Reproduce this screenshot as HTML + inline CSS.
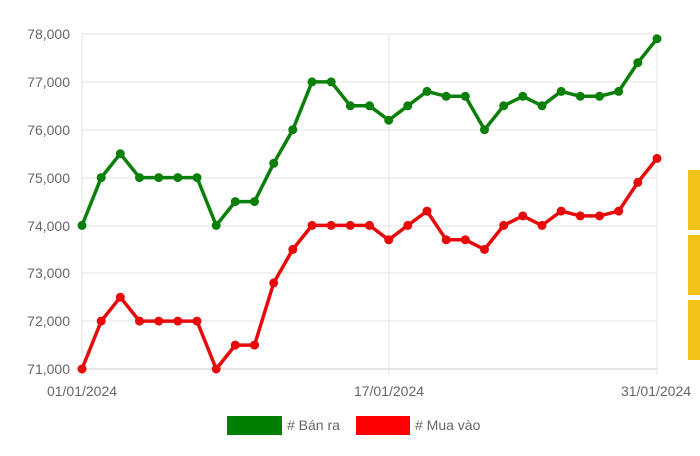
<!DOCTYPE html>
<html><head><meta charset="utf-8"><style>
body{margin:0;background:#fff;width:700px;height:451px;overflow:hidden;font-family:"Liberation Sans",sans-serif;}
</style></head><body>
<svg width="700" height="451" xmlns="http://www.w3.org/2000/svg" font-family="Liberation Sans, sans-serif">
<defs>
<marker id="mg" viewBox="-5 -5 10 10" refX="0" refY="0" markerWidth="10" markerHeight="10" markerUnits="userSpaceOnUse"><circle r="4.5" fill="#0a800a"/></marker>
<marker id="mr" viewBox="-5 -5 10 10" refX="0" refY="0" markerWidth="10" markerHeight="10" markerUnits="userSpaceOnUse"><circle r="4.5" fill="#e60a0a"/></marker>
</defs>
<g stroke="#e3e3e3" stroke-width="1">
<line x1="82" y1="34" x2="657" y2="34"/><line x1="82" y1="82" x2="657" y2="82"/><line x1="82" y1="130" x2="657" y2="130"/><line x1="82" y1="178" x2="657" y2="178"/><line x1="82" y1="226" x2="657" y2="226"/><line x1="82" y1="273" x2="657" y2="273"/><line x1="82" y1="321" x2="657" y2="321"/>
<line x1="82" y1="34" x2="82" y2="375"/><line x1="389" y1="34" x2="389" y2="375"/><line x1="657" y1="34" x2="657" y2="375"/>
</g>
<line x1="76" y1="369" x2="657" y2="369" stroke="#ccc"/>
<g fill="#666" font-size="14" text-anchor="end">
<text x="70" y="39">78,000</text><text x="70" y="87">77,000</text><text x="70" y="135">76,000</text><text x="70" y="183">75,000</text><text x="70" y="231">74,000</text><text x="70" y="278">73,000</text><text x="70" y="326">72,000</text><text x="70" y="374">71,000</text>
</g>
<g fill="#666" font-size="14" text-anchor="middle">
<text x="82" y="396">01/01/2024</text><text x="389" y="396">17/01/2024</text><text x="656" y="396">31/01/2024</text>
</g>
<rect x="688" y="170" width="12" height="60" fill="#f2c218"/>
<rect x="688" y="235" width="12" height="60" fill="#f2c218"/>
<rect x="688" y="300" width="12" height="60" fill="#f2c218"/>
<polyline fill="none" stroke="#0a800a" stroke-width="3.5" stroke-linejoin="round" marker-start="url(#mg)" marker-mid="url(#mg)" marker-end="url(#mg)" points="82,225.4 101.2,177.6 120.3,153.7 139.5,177.6 158.7,177.6 177.8,177.6 197,177.6 216.2,225.4 235.3,201.6 254.5,201.6 273.7,163.3 292.8,129.7 312,81.9 331.2,81.9 350.3,105.8 369.5,105.8 388.7,120.2 407.8,105.8 427,91.4 446.2,96.3 465.3,96.3 484.5,129.7 503.7,105.8 522.8,96.3 542,105.8 561.2,91.4 580.3,96.3 599.5,96.3 618.7,91.4 637.8,62.7 657,38.8"/>
<polyline fill="none" stroke="#e60a0a" stroke-width="3.5" stroke-linejoin="round" marker-start="url(#mr)" marker-mid="url(#mr)" marker-end="url(#mr)" points="82,369 101.2,321.1 120.3,297.2 139.5,321.1 158.7,321.1 177.8,321.1 197,321.1 216.2,369 235.3,345.1 254.5,345.1 273.7,282.9 292.8,249.4 312,225.4 331.2,225.4 350.3,225.4 369.5,225.4 388.7,239.8 407.8,225.4 427,211.1 446.2,239.8 465.3,239.8 484.5,249.4 503.7,225.4 522.8,215.9 542,225.4 561.2,211.1 580.3,215.9 599.5,215.9 618.7,211.1 637.8,182.4 657,158.4"/>
<rect x="227" y="416" width="55" height="19" fill="#008000"/>
<text x="287" y="430" font-size="14" fill="#666"># Bán ra</text>
<rect x="356" y="416" width="54" height="19" fill="#ff0000"/>
<text x="415" y="430" font-size="14" fill="#666"># Mua vào</text>
</svg>
</body></html>
